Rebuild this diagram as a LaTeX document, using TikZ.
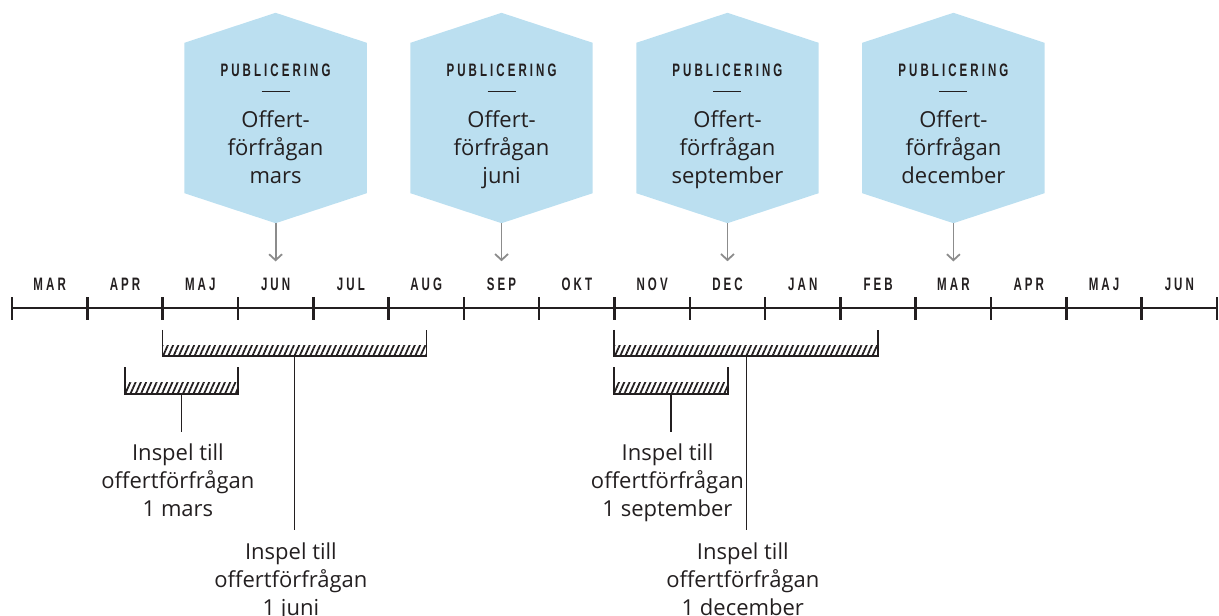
\documentclass[tikz,border=0pt]{standalone}
\usepackage{fontspec}
\setmainfont{Open Sans}
\newfontfamily\capsfont[FakeStretch=0.64,LetterSpace=17]{Liberation Sans Bold}
\usetikzlibrary{positioning,arrows.meta,patterns.meta}

\definecolor{hexblue}{HTML}{BBDFF0}
\definecolor{inkgray}{HTML}{231F20}
\definecolor{arrowgray}{HTML}{8C8C8C}

\begin{document}
\begin{tikzpicture}[
		x=1pt, y=-1pt,
		axis/.style={
			draw=inkgray,
			line width=2.6pt
		},
		tickmark/.style={
			draw=inkgray,
			line width=2.6pt
		},
		month/.style={
			font=\capsfont\fontsize{18}{20}\selectfont,
			text=inkgray,
			anchor=base,
			inner sep=0pt
		},
		hexbox/.style={
			minimum width=182pt,
			minimum height=210pt,
			inner sep=0pt
		},
		hexfill/.style={
			fill=hexblue,
			draw=none
		},
		title/.style={
			font=\capsfont\fontsize{18}{20}\selectfont,
			text=inkgray,
			anchor=base,
			inner sep=0pt
		},
		rulemark/.style={
			draw=inkgray,
			line width=0.9pt
		},
		body/.style={
			font=\fontsize{22}{28}\selectfont,
			text=inkgray,
			align=center,
			inner sep=0pt,
			anchor=north
		},
		pubarrow/.style={
			draw=arrowgray,
			line width=1.8pt,
			-{Straight Barb[length=6pt,width=13pt,line width=1.8pt]},
			shorten >=16pt
		},
		span/.style={
			inner sep=0pt,
			minimum height=26pt
		},
		bracket/.style={
			draw=inkgray,
			line width=1.8pt
		},
		hatch/.style={
			pattern={Lines[angle=66,distance=4.8pt,line width=1.8pt]},
			pattern color=inkgray
		},
		leader/.style={
			draw=inkgray,
			line width=1.6pt
		},
		caption/.style={
			font=\fontsize{22}{28}\selectfont,
			text=inkgray,
			align=center,
			inner xsep=0pt,
			inner ysep=12pt,
			anchor=north
		}
		]
		\useasboundingbox (0,0) rectangle (1219,616);

		% time axis with month ticks
		\foreach \i in {0,...,16}
			\coordinate (t\i) at (12+\i*75.3125, 308);
		\draw[axis] (t0) -- (t16);
		\foreach \i in {0,...,16}
			\draw[tickmark] ([yshift=11pt]t\i) -- ([yshift=-12pt]t\i);
		\foreach \m [count=\i from 0] in {MAR,APR,MAJ,JUN,JUL,AUG,SEP,OKT,NOV,DEC,JAN,FEB,MAR,APR,MAJ,JUN}
			\node[month] (m\i) at (12+\i*75.3125+37.66, 290) {\m};

		% publication hexagons
		\foreach \c/\mon [count=\k] in {3/mars,6/juni,9/september,12/december}
			{
				\node[hexbox] (h\k) at (12+\c*75.3125+37.66, 118) {};
				\fill[hexfill] (h\k.north) -- ([yshift=-30pt]h\k.north east) -- ([yshift=30pt]h\k.south east)
					-- (h\k.south) -- ([yshift=30pt]h\k.south west) -- ([yshift=-30pt]h\k.north west) -- cycle;
				\node[title] (ht\k) at ([yshift=-64pt]h\k.north) {PUBLICERING};
				\draw[rulemark] ([xshift=-14pt,yshift=-79pt]h\k.north) -- ([xshift=14pt,yshift=-79pt]h\k.north);
				\node[body] (hb\k) at ([yshift=-98pt]h\k.north) {Offert-\\förfrågan\\\mon};
				\draw[pubarrow] (h\k.south) -- (m\c.north);
			}

		% input periods
		\foreach \n/\a/\b/\y/\d/\mon in {1/2/5.5/343/174/juni,2/1.5/3/380.5/38/mars,3/8/11.5/343/174/december,4/8/9.5/380.5/38/september}
			{
				\node[span, minimum width={(\b-\a)*75.3125pt}] (s\n) at (12+\a*75.3125/2+\b*75.3125/2, \y) {};
				\fill[hatch] ([yshift=11pt]s\n.south west) rectangle (s\n.south east);
				\draw[bracket] (s\n.north west) -- (s\n.south west) -- (s\n.south east) -- (s\n.north east);
				\node[caption, below=\d pt of s\n, xshift=-3.5pt] (c\n) {Inspel till\\offertförfrågan\\1 \mon};
				\draw[leader] (s\n.south) -- (s\n.south |- c\n.north);
			}
\end{tikzpicture}
\end{document}
